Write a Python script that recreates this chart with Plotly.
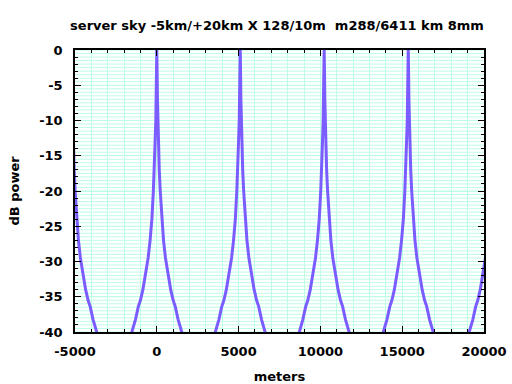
import plotly.graph_objects as go

# Lobe centres (meters)
lobe_centres = [-5200, 0, 5100, 10230, 15370, 20620]

# One-sided lobe profile: offset from centre (m) and power (dB)
profile_offset = [0, 20, 40, 60, 100, 150, 210, 300, 410, 530, 675, 850, 1000, 1130, 1300, 1500, 1700, 1900]
profile_db = [0, -3, -7, -10, -12.8, -17, -20, -24, -27, -29.5, -31.6, -34, -35.5, -36.4, -38.2, -40, -41.5, -43]

x_tick_vals = [-5000, 0, 5000, 10000, 15000, 20000]
x_tick_text = ["-5000", "0", "5000", "10000", "15000", "20000"]
y_tick_vals = [0, -5, -10, -15, -20, -25, -30, -35, -40]
y_tick_text = ["0", "-5", "-10", "-15", "-20", "-25", "-30", "-35", "-40"]

xs, ys = [], []
for c in lobe_centres:
    for off, db in zip(reversed(profile_offset), reversed(profile_db)):
        xs.append(c - off); ys.append(db)
    for off, db in zip(profile_offset[1:], profile_db[1:]):
        xs.append(c + off); ys.append(db)

line_color = "#7b5cff"
grid_color = "#bdfde6"
font_family = "DejaVu Sans"
bold13 = dict(family=font_family, size=13, color="black", weight="bold")

fig = go.Figure()
fig.add_trace(go.Scatter(x=xs, y=ys, mode="lines", line=dict(color=line_color, width=3),
                         showlegend=False, hoverinfo="skip"))

axis_common = dict(
    showline=True, linecolor="black", linewidth=1.5, mirror="ticks",
    ticks="inside", ticklen=6, tickcolor="black", tickwidth=1,
    showgrid=True, gridcolor=grid_color, gridwidth=1, zeroline=False,
    tickfont=bold13, automargin=False,
)

fig.update_xaxes(range=[-5000, 20000], tickmode="array", tickvals=x_tick_vals, ticktext=x_tick_text,
                 minor=dict(dtick=1000, tick0=-5000, ticks="inside", ticklen=3, tickcolor="black",
                            showgrid=True, gridcolor=grid_color, gridwidth=1),
                 ticklabelstandoff=7,
                 title=dict(text="meters", font=bold13, standoff=22),
                 **axis_common)
fig.update_yaxes(range=[-40, 0], tickmode="array", tickvals=y_tick_vals, ticktext=y_tick_text,
                 minor=dict(dtick=1, tick0=0, ticks="inside", ticklen=3, tickcolor="black",
                            showgrid=False),
                 ticklabelstandoff=8,
                 title=dict(text="dB power", font=bold13, standoff=17),
                 **axis_common)

# half-dB horizontal grid
grid_vals = [v * 0.5 for v in range(-80, 1)]
for g in grid_vals:
    fig.add_shape(type="line", xref="paper", x0=0, x1=1, yref="y", y0=g, y1=g,
                  line=dict(color=grid_color, width=1), layer="below")

fig.update_layout(
    width=512, height=384,
    margin=dict(l=75, r=28, t=50, b=52),
    paper_bgcolor="white", plot_bgcolor="white",
    title=dict(text="server sky -5km/+20km X 128/10m  m288/6411 km 8mm",
               xref="container", x=0.541, xanchor="center", y=0.935, yanchor="middle",
               font=bold13),
)

fig.write_html("out.html", config={"displayModeBar": False},
               post_script="document.body.style.margin='0';document.body.style.padding='0';")
